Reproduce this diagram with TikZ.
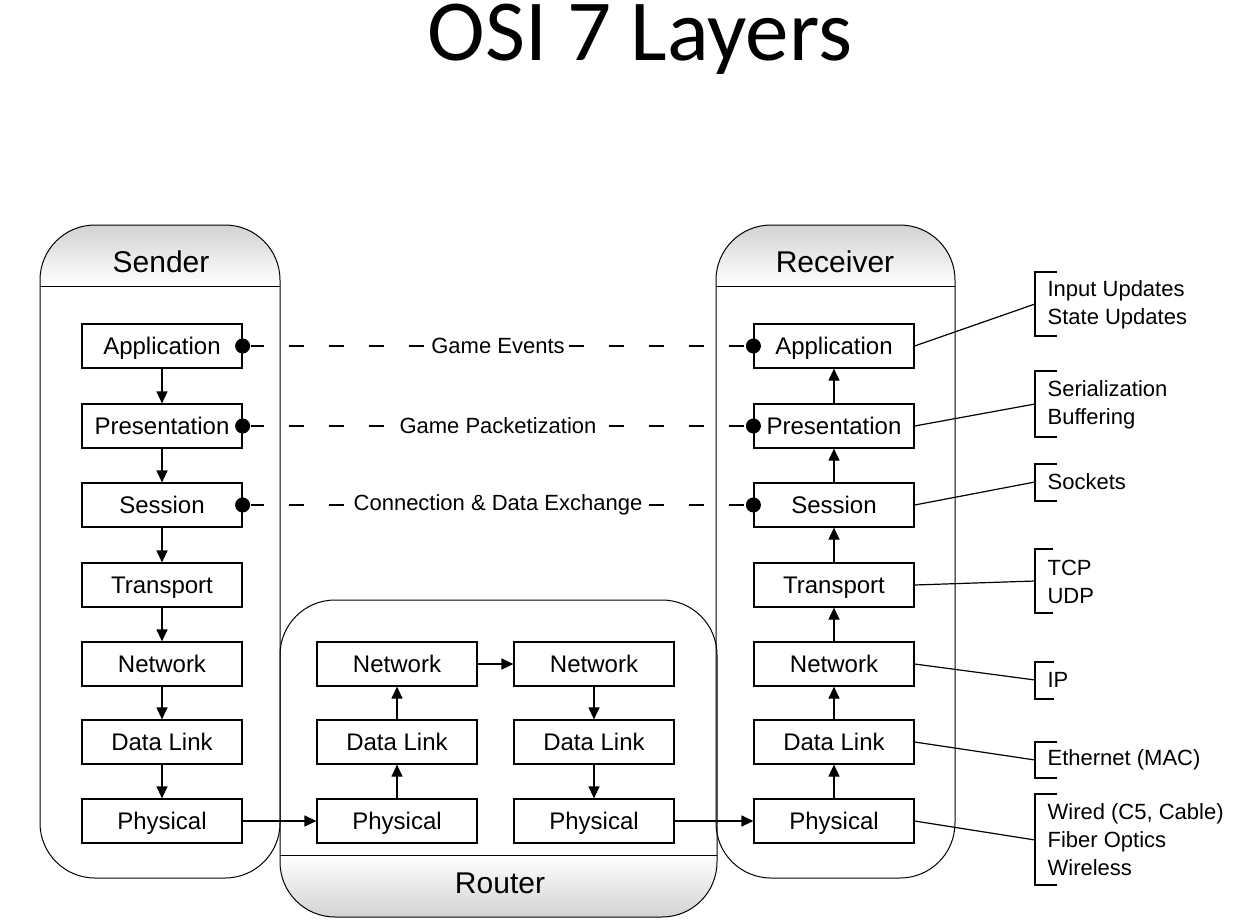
\documentclass[tikz,border=0pt]{standalone}
\usepackage{fontspec}
\setmainfont{Liberation Sans}
\newfontfamily\titlefont{Carlito}
\usetikzlibrary{arrows.meta}

\begin{document}
\begin{tikzpicture}[x=1pt,y=-1pt,line width=1.2pt,
  layer/.style={draw,minimum width=160pt,minimum height=44pt,inner sep=0pt,text height=22pt,text depth=5pt,font=\fontsize{24}{28}\selectfont},
  flow/.style={-{Triangle[length=12pt,width=11pt]}},
  game/.style={dash pattern=on 15pt off 25pt,dash phase=1.5pt},
  dot/.style={circle,fill,inner sep=0pt,minimum size=15pt},
  talk/.style={fill=white,inner sep=0pt,font=\fontsize{22}{28}\selectfont},
  note/.style={anchor=west,align=left,inner sep=0pt,font=\fontsize{22}{28}\selectfont},
  head/.style={anchor=base,font=\fontsize{30}{34}\selectfont}]
\useasboundingbox (0,0) rectangle (1245,923);
\node[anchor=base,inner sep=0pt,font=\titlefont\fontsize{87}{90}\selectfont] (title) at (640,61) {OSI 7 Layers};

\begin{scope}
\clip[rounded corners=55pt] (40,225) rectangle (280,878);
\shade[top color=gray!35,bottom color=white] (40,225) rectangle (280,286);
\end{scope}
\begin{scope}
\clip[rounded corners=55pt] (716,225) rectangle (955,878);
\shade[top color=gray!35,bottom color=white] (716,225) rectangle (955,286);
\end{scope}
\begin{scope}
\clip[rounded corners=55pt] (280,600) rectangle (717,917);
\shade[top color=white,bottom color=gray!35] (280,855) rectangle (717,917);
\end{scope}
\draw[line width=1pt,rounded corners=55pt] (40,225) rectangle (280,878);
\draw[line width=1pt,rounded corners=55pt] (716,225) rectangle (955,878);
\draw[line width=1pt,rounded corners=55pt] (280,600) rectangle (717,917);
\draw[line width=1pt] (40,286) -- (280,286);
\draw[line width=1pt] (716,286) -- (955,286);
\draw[line width=1pt] (280,855) -- (717,855);
\node[head] (sender) at (161,272) {Sender};
\node[head] (receiver) at (835,272) {Receiver};
\node[head] (router) at (500,893) {Router};

\node[layer] (sapp) at (162,346) {Application};
\node[layer] (spres) at (162,426) {Presentation};
\node[layer] (ssess) at (162,505) {Session};
\node[layer] (strans) at (162,585) {Transport};
\node[layer] (snet) at (162,664) {Network};
\node[layer] (slink) at (162,742) {Data Link};
\node[layer] (sphys) at (162,821) {Physical};

\node[layer] (net1) at (397,664) {Network};
\node[layer] (link1) at (397,742) {Data Link};
\node[layer] (phys1) at (397,821) {Physical};
\node[layer] (net2) at (594,664) {Network};
\node[layer] (link2) at (594,742) {Data Link};
\node[layer] (phys2) at (594,821) {Physical};

\node[layer] (rapp) at (834,346) {Application};
\node[layer] (rpres) at (834,426) {Presentation};
\node[layer] (rsess) at (834,505) {Session};
\node[layer] (rtrans) at (834,585) {Transport};
\node[layer] (rnet) at (834,664) {Network};
\node[layer] (rlink) at (834,742) {Data Link};
\node[layer] (rphys) at (834,821) {Physical};

\draw[flow] (sapp) -- (spres);
\draw[flow] (spres) -- (ssess);
\draw[flow] (ssess) -- (strans);
\draw[flow] (strans) -- (snet);
\draw[flow] (snet) -- (slink);
\draw[flow] (slink) -- (sphys);
\draw[flow] (sphys) -- (phys1);
\draw[flow] (phys1) -- (link1);
\draw[flow] (link1) -- (net1);
\draw[flow] (net1) -- (net2);
\draw[flow] (net2) -- (link2);
\draw[flow] (link2) -- (phys2);
\draw[flow] (phys2) -- (rphys);
\draw[flow] (rphys) -- (rlink);
\draw[flow] (rlink) -- (rnet);
\draw[flow] (rnet) -- (rtrans);
\draw[flow] (rtrans) -- (rsess);
\draw[flow] (rsess) -- (rpres);
\draw[flow] (rpres) -- (rapp);

\node[dot] (d1) at (sapp.east) {};
\node[dot] (d2) at (spres.east) {};
\node[dot] (d3) at (ssess.east) {};
\node[dot] (e1) at (rapp.west) {};
\node[dot] (e2) at (rpres.west) {};
\node[dot] (e3) at (rsess.west) {};
\draw[game] (d1) -- node[talk] {Game Events} (e1);
\draw[game] (d2) -- node[talk] {Game Packetization} (e2);
\draw[game] (d3) -- node[talk] {Connection \& Data Exchange} (e3);

\coordinate (b1) at (1035,304);
\coordinate (b2) at (1035,404);
\coordinate (b3) at (1035,482);
\coordinate (b4) at (1035,581);
\coordinate (b5) at (1035,680);
\coordinate (b6) at (1035,760);
\coordinate (b7) at (1035,840);
\draw (rapp.east) -- (b1);
\draw (rpres.east) -- (b2);
\draw (rsess.east) -- (b3);
\draw (rtrans.east) -- (b4);
\draw (rnet.east) -- (b5);
\draw (rlink.east) -- (b6);
\draw (rphys.east) -- (b7);
\draw (1057,272) -- (1035,272) -- (1035,336) -- (1057,336);
\draw (1057,371) -- (1035,371) -- (1035,437) -- (1057,437);
\draw (1057,464) -- (1035,464) -- (1035,501) -- (1057,501);
\draw (1053,549) -- (1035,549) -- (1035,613) -- (1053,613);
\draw (1054,662) -- (1035,662) -- (1035,699) -- (1054,699);
\draw (1057,742) -- (1035,742) -- (1035,778) -- (1057,778);
\draw (1057,794) -- (1035,794) -- (1035,885) -- (1057,885);
\node[note] (n1) at (1047,305) {Input Updates\\State Updates};
\node[note] (n2) at (1047,405) {Serialization\\Buffering};
\node[note] (n3) at (1047,482) {Sockets};
\node[note] (n4) at (1047,582) {TCP\\UDP};
\node[note] (n5) at (1047,680) {IP};
\node[note] (n6) at (1047,760) {Ethernet (MAC)};
\node[note] (n7) at (1047,840) {Wired (C5, Cable)\\Fiber Optics\\Wireless};
\end{tikzpicture}
\end{document}
